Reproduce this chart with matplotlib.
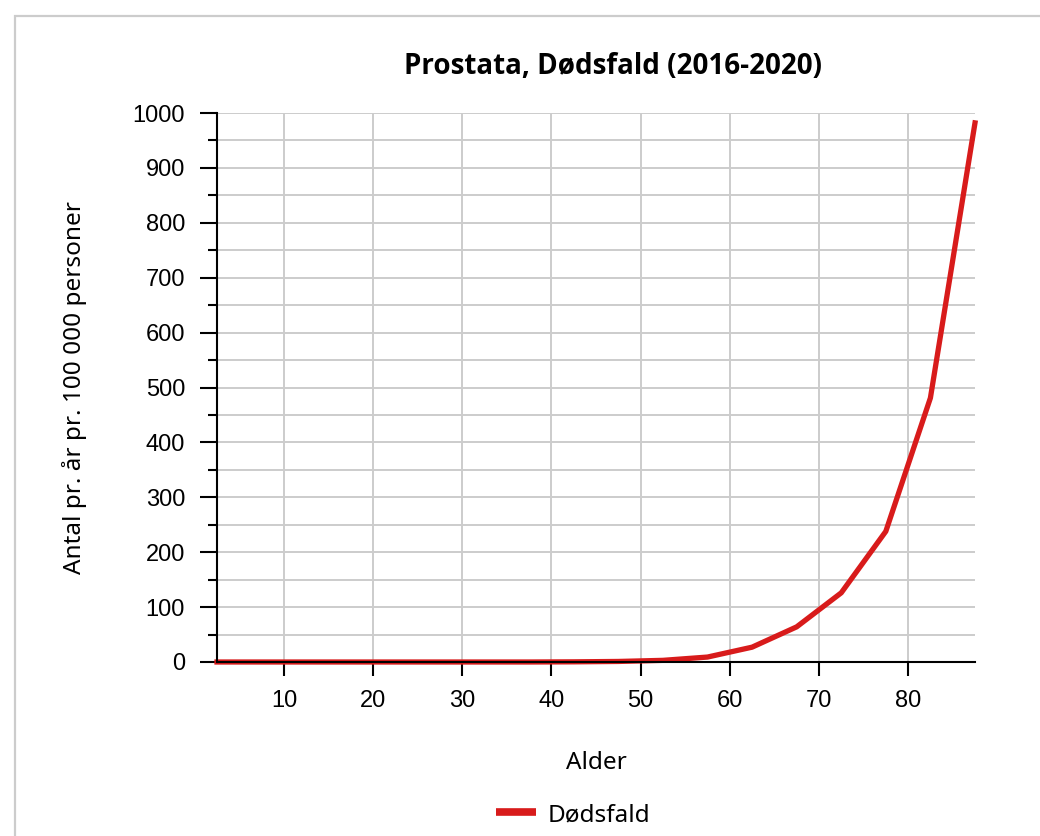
import matplotlib
matplotlib.use('Agg')
import matplotlib.pyplot as plt
from matplotlib.patches import Rectangle
from matplotlib.lines import Line2D
from matplotlib.ticker import MultipleLocator

# age group midpoints and deaths per 100 000 per year
ages = [2.5, 7.5, 12.5, 17.5, 22.5, 27.5, 32.5, 37.5, 42.5, 47.5,
        52.5, 57.5, 62.5, 67.5, 72.5, 77.5, 82.5, 87.5]
deaths = [0, 0, 0, 0, 0, 0, 0, 0, 0.3, 1,
          3, 9, 27, 64, 126, 238, 481, 982]

title = 'Prostata, Dødsfald (2016-2020)'
x_label = 'Alder'
y_label = 'Antal pr. år pr. 100 000 personer'
series_name = 'Dødsfald'

text_font = ['Noto Sans', 'DejaVu Sans']
title_font = ['Open Sans', 'DejaVu Sans']
plt.rcParams['font.family'] = ['Liberation Sans', 'DejaVu Sans']

red = '#d81b1b'

fig = plt.figure(figsize=(10.4, 8.36), dpi=100)
ax = fig.add_axes([217 / 1040, 1 - 662 / 836, 758 / 1040, 549 / 836])

# light frame round the chart
fig.patches.append(Rectangle((15 / 1040, -0.2), 1.5, 1 - 16 / 836 + 0.2,
                             transform=fig.transFigure, fill=False,
                             edgecolor='#cccccc', linewidth=1.6))

ax.plot(ages, deaths, color=red, linewidth=3.8, zorder=3, clip_on=False)

ax.set_xlim(2.5, 87.5)
ax.set_ylim(0, 1000)
ax.xaxis.set_major_locator(MultipleLocator(10))
ax.yaxis.set_major_locator(MultipleLocator(100))
ax.yaxis.set_minor_locator(MultipleLocator(50))

ax.grid(True, which='both', axis='y', color='#cccccc', linewidth=1.4)
ax.grid(True, which='major', axis='x', color='#cccccc', linewidth=1.4)
ax.set_axisbelow(True)

for s in ['top', 'right']:
    ax.spines[s].set_visible(False)
for s in ['left', 'bottom']:
    ax.spines[s].set_linewidth(1.5)
    ax.spines[s].set_zorder(4)

ax.tick_params(axis='y', which='major', length=12, width=1.5, pad=11, labelsize=17)
ax.tick_params(axis='y', which='minor', length=6.5, width=1.5)
ax.tick_params(axis='x', which='major', length=10, width=1.5, pad=10, labelsize=17)

fig.text(613 / 1040, 1 - 66 / 836, title, ha='center', va='center',
         family=title_font, fontsize=20, fontweight='bold')
fig.text(596 / 1040, 1 - 763 / 836, x_label, ha='center', va='center',
         family=text_font, fontsize=17.5)
fig.text(75 / 1040, 1 - 388 / 836, y_label, ha='center', va='center',
         rotation=90, family=text_font, fontsize=17.5)

# legend
handle = Line2D([], [], color=red, linewidth=5.5, solid_capstyle='butt')
fig.legend(handles=[handle], labels=[series_name], loc='center',
           bbox_to_anchor=(573 / 1040, 1 - 815 / 836),
           frameon=False, prop={'family': text_font, 'size': 17.5},
           handlelength=1.65, handletextpad=0.5)

fig.savefig('out.png', dpi=100)
